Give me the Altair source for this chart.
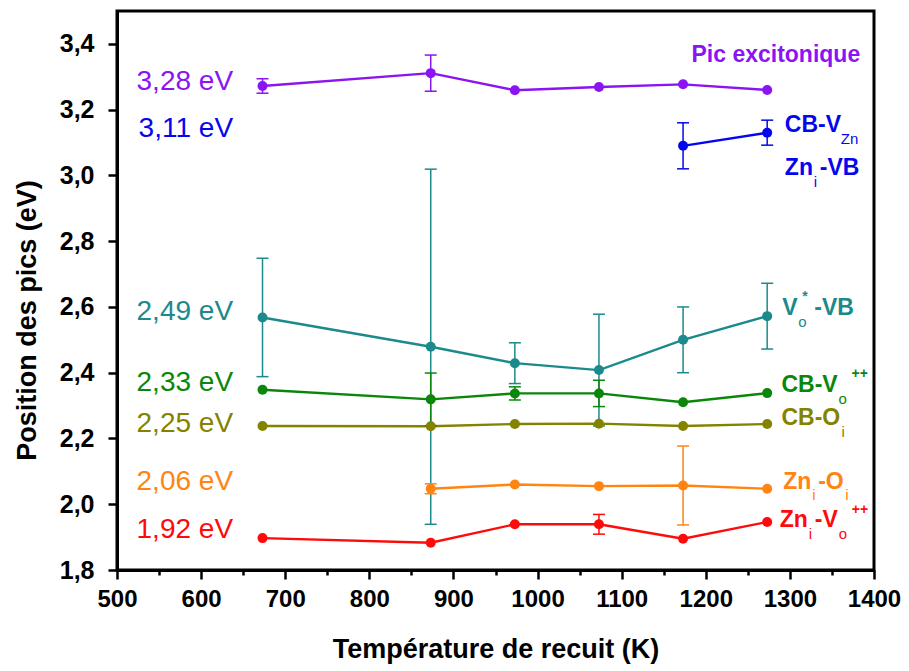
import altair as alt
import pandas as pd

# ---------------- data ----------------
temps = [673, 873, 973, 1073, 1173, 1273]

series_names = ["Pic excitonique", "CB-VZn", "Vo*-VB", "CB-Vo++", "CB-Oi", "Zni-Oi", "Zni-Vo++"]
series_colors = ["#8B14F2", "#0606EE", "#1C8A8C", "#0A870A", "#838300", "#FF8412", "#FF0A0A"]

exc_T = [673, 873, 973, 1073, 1173, 1273]
exc_E = [3.272, 3.311, 3.259, 3.269, 3.277, 3.260]
exc_err = [0.022, 0.055, 0.0, 0.0, 0.0, 0.0]

vzn_T = [1173, 1273]
vzn_E = [3.090, 3.130]
vzn_err = [0.070, 0.038]

vo_T = [673, 873, 973, 1073, 1173, 1273]
vo_E = [2.568, 2.479, 2.429, 2.408, 2.500, 2.572]
vo_err = [0.180, 0.540, 0.062, 0.170, 0.100, 0.100]

vopp_T = [673, 873, 973, 1073, 1173, 1273]
vopp_E = [2.348, 2.319, 2.337, 2.337, 2.310, 2.338]
vopp_err = [0.0, 0.080, 0.020, 0.040, 0.0, 0.0]

oi_T = [673, 873, 973, 1073, 1173, 1273]
oi_E = [2.238, 2.237, 2.244, 2.245, 2.238, 2.244]
oi_err = [0.0, 0.0, 0.0, 0.0, 0.0, 0.0]

znoi_T = [873, 973, 1073, 1173, 1273]
znoi_E = [2.047, 2.060, 2.055, 2.057, 2.047]
znoi_err = [0.015, 0.0, 0.0, 0.120, 0.0]

znvo_T = [673, 873, 973, 1073, 1173, 1273]
znvo_E = [1.897, 1.883, 1.939, 1.939, 1.895, 1.946]
znvo_err = [0.0, 0.0, 0.0, 0.030, 0.0, 0.0]

peak_labels = ["3,28 eV", "3,11 eV", "2,49 eV", "2,33 eV", "2,25 eV", "2,06 eV", "1,92 eV"]
peak_label_E = [3.284, 3.141, 2.585, 2.368, 2.243, 2.067, 1.922]

x_ticks = list(range(500, 1401, 50))
y_ticks = [round(1.8 + 0.1 * i, 1) for i in range(17)]

# ---------------- tables ----------------
all_series = [
    ("Pic excitonique", exc_T, exc_E, exc_err),
    ("CB-VZn", vzn_T, vzn_E, vzn_err),
    ("Vo*-VB", vo_T, vo_E, vo_err),
    ("CB-Vo++", vopp_T, vopp_E, vopp_err),
    ("CB-Oi", oi_T, oi_E, oi_err),
    ("Zni-Oi", znoi_T, znoi_E, znoi_err),
    ("Zni-Vo++", znvo_T, znvo_E, znvo_err),
]
rows = []
for name, T, E, err in all_series:
    for t, e, s in zip(T, E, err):
        rows.append({"series": name, "T": t, "E": e, "err": s, "lo": e - s, "hi": e + s})
df = pd.DataFrame(rows)
df_err = df[df["err"] > 0].copy()
caps = pd.concat([
    df_err.assign(cap=df_err["lo"]),
    df_err.assign(cap=df_err["hi"]),
])

PLOT_W = 757
PLOT_H = 559
# annotation pieces: anchor in data units, offsets in pixels converted to data units
K_PER_PX = 900 / PLOT_W
EV_PER_PX = 1.7 / PLOT_H
right_labels = [
    ("Pic excitonique", 1183, 3.366, [("main", "Pic excitonique", 0, 0)]),
    ("CB-VZn", 1294, 3.153, [("main", "CB-V", 0, 0), ("sub", "Zn", 56, 14)]),
    ("CB-VZn", 1294, 3.0225, [("main", "Zn", 0, 0), ("sub", "i", 29, 14), ("main", "-VB", 35, 0)]),
    ("Vo*-VB", 1291, 2.597, [("main", "V", 0, 0), ("sub", "o", 16, 14), ("sup", "*", 20, -11), ("main", "-VB", 32, 0)]),
    ("CB-Vo++", 1290, 2.3626, [("main", "CB-V", 0, 0), ("sub", "o", 57, 14), ("sup", "++", 70, -11)]),
    ("CB-Oi", 1290, 2.2623, [("main", "CB-O", 0, 0), ("sub", "i", 60, 14)]),
    ("Zni-Oi", 1292, 2.0676, [("main", "Zn", 0, 0), ("sub", "i", 29, 13), ("main", "-O", 35, 0), ("sub", "i", 62, 13)]),
    ("Zni-Vo++", 1288, 1.952, [("main", "Zn", 0, 0), ("sub", "i", 29, 14), ("main", "-V", 35, 0), ("sub", "o", 59, 14), ("sup", "++", 72, -10)]),
]
pieces = []
for name, ax, ay, parts in right_labels:
    for kind, txt, dx, dy in parts:
        pieces.append({"series": name, "kind": kind, "text": txt,
                       "x": ax + dx * K_PER_PX, "y": ay - dy * EV_PER_PX})
pieces = pd.DataFrame(pieces)
left_df = pd.DataFrame({"series": series_names, "text": peak_labels, "y": peak_label_E, "x": [638] * 7})

FONT = "Liberation Sans"
color = alt.Color("series:N", scale=alt.Scale(domain=series_names, range=series_colors), legend=None)

x_enc = alt.X("T:Q", scale=alt.Scale(domain=[500, 1400], nice=False, zero=False),
              axis=alt.Axis(values=x_ticks, grid=False, labelOverlap=False, labelFlush=False,
                            labelExpr="datum.value % 100 == 0 ? format(datum.value, 'd') : ''",
                            tickSize={"condition": {"test": "datum.value % 100 == 0", "value": 9}, "value": 5},
                            labelPadding=8, labelFontSize=24,
                            title="Température de recuit (K)", titlePadding=25))
y_enc = alt.Y("E:Q", scale=alt.Scale(domain=[1.8, 3.5], nice=False, zero=False),
              axis=alt.Axis(values=y_ticks, grid=False, labelOverlap=False, labelFlush=False,
                            labelExpr="round(datum.value*10) % 2 == 0 ? replace(format(datum.value, '.1f'), '.', ',') : ''",
                            tickSize={"condition": {"test": "round(datum.value*10) % 2 == 0", "value": 9}, "value": 5},
                            labelPadding=14,
                            title="Position des pics (eV)", titlePadding=18, titleY=309))

base = alt.Chart(df)
lines = base.mark_line(strokeWidth=2.4).encode(x=x_enc, y=y_enc, color=color, order="T:Q")
rules = alt.Chart(df_err).mark_rule(strokeWidth=1.5).encode(x="T:Q", y="lo:Q", y2="hi:Q", color=color)
capm = alt.Chart(caps).mark_point(shape="M-1,0L1,0", size=144, strokeWidth=1.5, filled=False, opacity=1).encode(
    x="T:Q", y="cap:Q", color=color)
pts = base.mark_circle(size=100, opacity=1).encode(x="T:Q", y="E:Q", color=color)

txt_main = alt.Chart(pieces[pieces["kind"] == "main"]).mark_text(
    font=FONT, fontSize=23, fontWeight="bold", align="left", baseline="middle").encode(
    x="x:Q", y="y:Q", text="text:N", color=color)
txt_sub = alt.Chart(pieces[pieces["kind"] == "sub"]).mark_text(
    font=FONT, fontSize=15, align="left", baseline="middle").encode(
    x="x:Q", y="y:Q", text="text:N", color=color)
txt_sup = alt.Chart(pieces[pieces["kind"] == "sup"]).mark_text(
    font=FONT, fontSize=14, fontWeight="bold", align="left", baseline="middle").encode(
    x="x:Q", y="y:Q", text="text:N", color=color)
txt_left = alt.Chart(left_df).mark_text(
    font=FONT, fontSize=28, align="right", baseline="middle").encode(
    x="x:Q", y="y:Q", text="text:N", color=color)

chart = alt.layer(lines, rules, capm, pts, txt_main, txt_sub, txt_sup, txt_left).properties(
    width=PLOT_W, height=PLOT_H,
    autosize=alt.AutoSizeParams(type="none"),
    padding={"left": 109, "top": 3, "right": 27, "bottom": 97},
).configure_view(stroke="black", strokeWidth=3).configure_axis(
    domainColor="black", domainWidth=3, tickColor="black", tickWidth=2.5,
    labelColor="black", labelFont=FONT, labelFontSize=25, labelFontWeight="bold",
    titleColor="black", titleFont=FONT, titleFontSize=27, titleFontWeight="bold",
)

chart.save("out.html", embed_options={"renderer": "svg", "actions": False})
